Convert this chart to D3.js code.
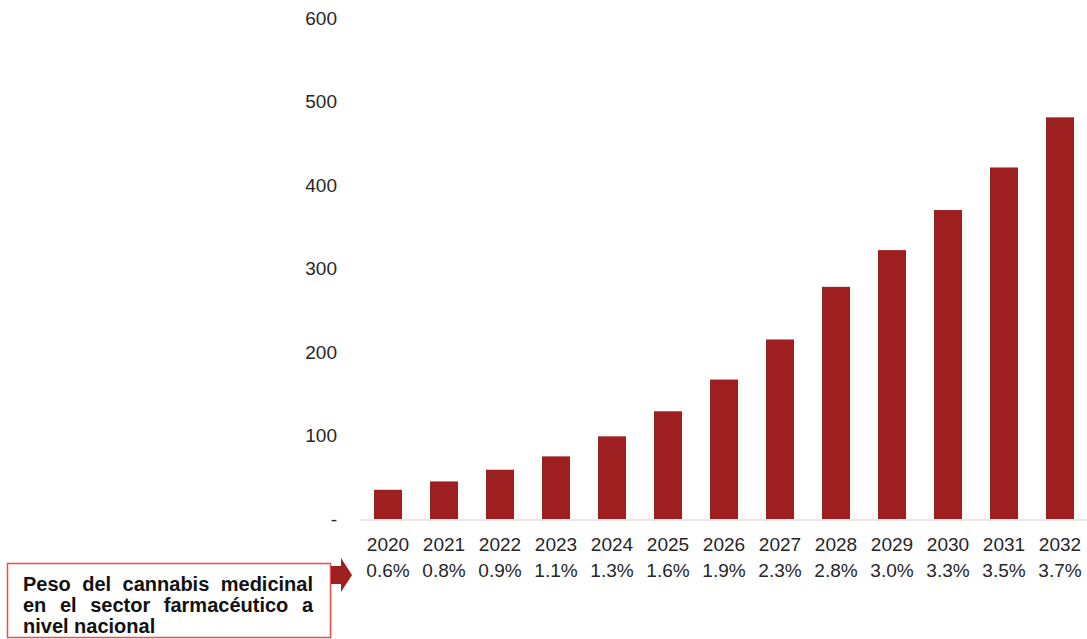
<!DOCTYPE html>
<html>
<head>
<meta charset="utf-8">
<script src="https://cdn.jsdelivr.net/npm/d3@7"></script>
<style>
  body { margin: 0; background: #fff; }
  svg { display: block; font-family: "Liberation Sans", Arial, sans-serif; }
</style>
</head>
<body>
<svg id="chart" width="1087" height="639"></svg>
<script>
const years = ["2020", "2021", "2022", "2023", "2024", "2025", "2026", "2027", "2028", "2029", "2030", "2031", "2032"];
const values = [35, 45, 59, 75, 99, 129, 167, 215, 278, 322, 370, 421, 481];
const shares = ["0.6%", "0.8%", "0.9%", "1.1%", "1.3%", "1.6%", "1.9%", "2.3%", "2.8%", "3.0%", "3.3%", "3.5%", "3.7%"];
const yTicks = [0, 100, 200, 300, 400, 500, 600];
const boxLines = ["Peso del cannabis medicinal", "en el sector farmacéutico a", "nivel nacional"];

const svg = d3.select("#chart");

let x = d3.scaleBand().domain(years).range([360, 1088]).paddingInner(0.5).paddingOuter(0.25);
let y = d3.scaleLinear().domain([0, 600]).range([519, 18]);

// baseline
svg.append("line")
    .attr("x1", 360).attr("x2", 1087)
    .attr("y1", y(0) + 1).attr("y2", y(0) + 1)
    .attr("stroke", "#e6e6e6")
    .attr("stroke-width", 2);

// bars
svg.selectAll(".bar")
    .data(values)
    .enter()
    .append("rect")
    .attr("class", "bar")
    .attr("x", (d, i) => x(years[i]))
    .attr("y", d => y(d))
    .attr("width", x.bandwidth())
    .attr("height", d => y(0) - y(d))
    .attr("fill", "#9e1f20");

// y axis labels (no line)
svg.selectAll(".ytick")
    .data(yTicks)
    .enter()
    .append("text")
    .attr("class", "ytick")
    .attr("x", 337)
    .attr("y", d => y(d))
    .attr("dy", "0.35em")
    .attr("text-anchor", "end")
    .attr("font-size", 19)
    .attr("fill", "#262626")
    .text(d => d === 0 ? "-" : d);

// x labels: year + share
svg.selectAll(".year")
    .data(years)
    .enter()
    .append("text")
    .attr("class", "year")
    .attr("x", d => x(d) + x.bandwidth() / 2)
    .attr("y", 544)
    .attr("dy", "0.35em")
    .attr("text-anchor", "middle")
    .attr("font-size", 19)
    .attr("fill", "#262626")
    .text(d => d);

svg.selectAll(".share")
    .data(shares)
    .enter()
    .append("text")
    .attr("class", "share")
    .attr("x", (d, i) => x(years[i]) + x.bandwidth() / 2)
    .attr("y", 570)
    .attr("dy", "0.35em")
    .attr("text-anchor", "middle")
    .attr("font-size", 19)
    .attr("fill", "#262626")
    .text(d => d);

// box with label
svg.append("rect")
    .attr("x", 7.5).attr("y", 563.5)
    .attr("width", 323).attr("height", 74)
    .attr("fill", "#fff")
    .attr("stroke", "#f04a4a")
    .attr("stroke-width", 1.5);

// arrow
svg.append("path")
    .attr("d", "M331,566 L341,566 L341,558 L352,575 L341,592 L341,584 L331,584 Z")
    .attr("fill", "#9e1f20");

// justified text lines (last one left-aligned)
const left = 23, right = 313;
boxLines.forEach((line, li) => {
    let words = line.split(" ");
    let g = svg.append("g");
    let ty = 584 + li * 21;
    let nodes = words.map(w => g.append("text")
        .attr("y", ty)
        .attr("dy", "0.35em")
        .attr("font-size", 20)
        .attr("font-weight", "bold")
        .attr("fill", "#111")
        .text(w));
    let widths = nodes.map(n => n.node().getComputedTextLength());
    let total = d3.sum(widths);
    let gap = li === boxLines.length - 1 ? 5.5 : (right - left - total) / (words.length - 1);
    let cx = left;
    nodes.forEach((n, i) => {
        n.attr("x", cx);
        cx += widths[i] + gap;
    });
});
</script>
</body>
</html>
